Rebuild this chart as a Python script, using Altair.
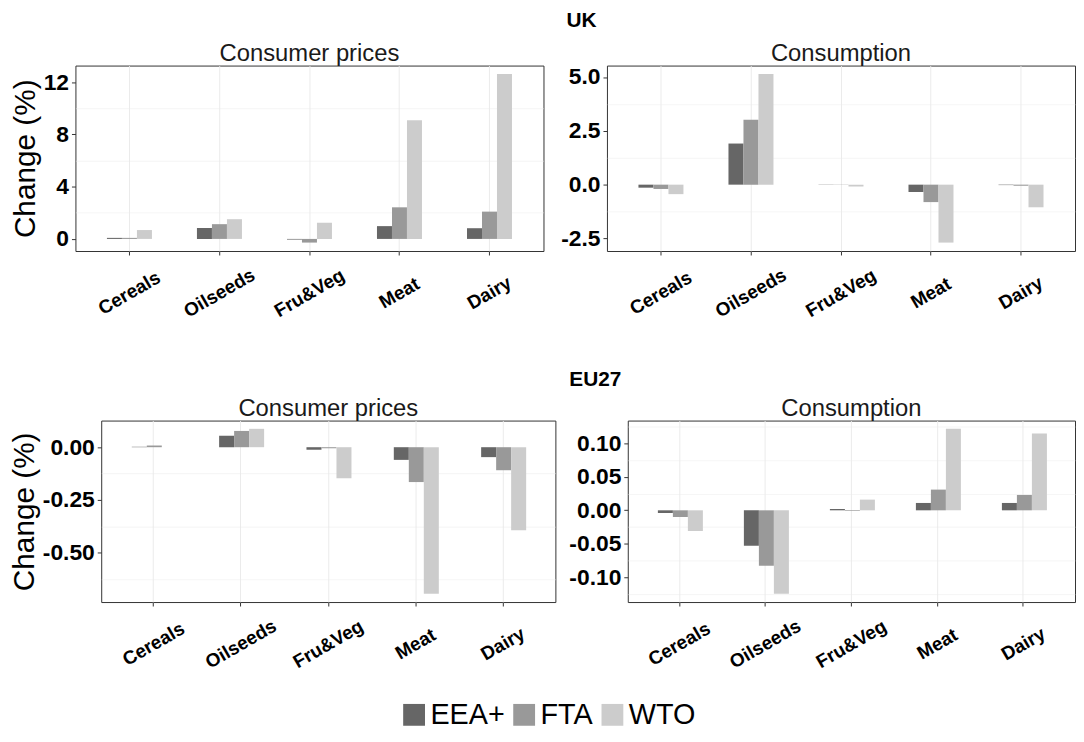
import altair as alt
import pandas as pd

categories = ["Cereals", "Oilseeds", "Fru&Veg", "Meat", "Dairy"]
scenarios = ["EEA+", "FTA", "WTO"]
greys = ["#666666", "#999999", "#cccccc"]

uk_prices_eea = [0.08, 0.83, -0.05, 0.98, 0.82]
uk_prices_fta = [0.08, 1.13, -0.28, 2.42, 2.09]
uk_prices_wto = [0.68, 1.51, 1.23, 9.08, 12.63]

uk_cons_eea = [-0.14, 1.91, -0.01, -0.34, -0.02]
uk_cons_fta = [-0.20, 3.01, -0.01, -0.81, -0.05]
uk_cons_wto = [-0.44, 5.14, -0.09, -2.69, -1.05]

eu_prices_eea = [0.002, 0.054, -0.012, -0.060, -0.047]
eu_prices_fta = [0.008, 0.077, -0.005, -0.165, -0.109]
eu_prices_wto = [0.0, 0.087, -0.147, -0.694, -0.393]

eu_cons_eea = [-0.004, -0.053, 0.002, 0.011, 0.011]
eu_cons_fta = [-0.010, -0.083, -0.001, 0.031, 0.023]
eu_cons_wto = [-0.031, -0.125, 0.016, 0.122, 0.115]

uk_prices_ticks = [0, 4, 8, 12]
uk_prices_minor = [2, 6, 10]
uk_cons_ticks = [-2.5, 0, 2.5, 5]
uk_cons_minor = [-1.25, 1.25, 3.75]
eu_prices_ticks = [-0.5, -0.25, 0]
eu_prices_minor = [-0.625, -0.375, -0.125]
eu_cons_ticks = [-0.1, -0.05, 0, 0.05, 0.1]
eu_cons_minor = [-0.125, -0.075, -0.025, 0.025, 0.075, 0.125]

FONT = "Liberation Sans"


def panel(eea, fta, wto, title, ticks, minor, fmt, width, height, ytitle=""):
    df = pd.DataFrame({
        "Category": [c for c in categories for _ in scenarios],
        "Scenario": scenarios * len(categories),
        "Change": [v for trio in zip(eea, fta, wto) for v in trio],
    })
    lo = min(0.0, float(df.Change.min()))
    hi = max(0.0, float(df.Change.max()))
    pad = 0.05 * (hi - lo)
    yscale = alt.Scale(domain=[lo - pad, hi + pad], nice=False, zero=False)
    ykw = dict(
        values=ticks, format=fmt, orient="left",
        labelExpr="replace(datum.label, '\u2212', '-')",
        labelOverlap=False, labelFlush=False,
        labelFontSize=23, labelFontWeight="bold", labelColor="black",
        labelPadding=3, tickSize=4, gridWidth=1,
    )
    if ytitle:
        ykw.update(title=ytitle, titleFontSize=30, titleFontWeight="normal",
                   titleColor="black", titlePadding=3)
    else:
        ykw.update(title="")
    x = alt.X(
        "Category:N", sort=categories,
        scale=alt.Scale(paddingInner=0.5, paddingOuter=0.35),
        axis=alt.Axis(title="", bandPosition=0.5, labelAngle=-30, labelAlign="center",
                      labelBaseline="middle", labelPadding=38, labelFontSize=19,
                      labelFontWeight="bold", labelColor="black", tickSize=4,
                      labelOverlap=False, grid=True),
    )
    color = alt.Color(
        "Scenario:N", sort=scenarios,
        scale=alt.Scale(domain=scenarios, range=greys),
        legend=alt.Legend(title=None, orient="none", legendX=395, legendY=640,
                          direction="horizontal", symbolType="square", symbolSize=484,
                          symbolStrokeWidth=0, labelFontSize=29, labelFont=FONT,
                          labelColor="black", labelOffset=2, columnPadding=5),
    )
    base = alt.Chart(df)
    minor_grid = base.mark_point(opacity=0).encode(
        y=alt.Y("Change:Q", scale=yscale,
                axis=alt.Axis(values=minor, orient="left", labels=False, ticks=False,
                              domain=False, grid=True, gridWidth=0.5, title="")),
    )
    bars = base.mark_bar().encode(
        x=x, xOffset=alt.XOffset("Scenario:N", sort=scenarios),
        y=alt.Y("Change:Q", scale=yscale, axis=alt.Axis(**ykw)),
        color=color,
    )
    return alt.layer(minor_grid, bars).resolve_axis(y="independent").properties(
        width=width, height=height,
        title=alt.TitleParams(title, fontSize=24, fontWeight="normal", font=FONT,
                              color="#1a1a1a", anchor="middle", offset=0),
    )


uk_cp = panel(uk_prices_eea, uk_prices_fta, uk_prices_wto, "Consumer prices",
              uk_prices_ticks, uk_prices_minor, "d", 472, 187, "Change (%)")
uk_cs = panel(uk_cons_eea, uk_cons_fta, uk_cons_wto, "Consumption",
              uk_cons_ticks, uk_cons_minor, ".1f", 472, 187)
eu_cp = panel(eu_prices_eea, eu_prices_fta, eu_prices_wto, "Consumer prices",
              eu_prices_ticks, eu_prices_minor, ".2f", 458, 183, "Change (%)")
eu_cs = panel(eu_cons_eea, eu_cons_fta, eu_cons_wto, "Consumption",
              eu_cons_ticks, eu_cons_minor, ".2f", 451, 183)


def spacer():
    return alt.Chart(pd.DataFrame({"a": [0]})).mark_rect(opacity=0).properties(
        width=1, height=1, view=alt.ViewBackground(strokeOpacity=0)
    )


def row(a, b, name, dx, gap, offset):
    inner = alt.hconcat(a, b, spacing=gap).resolve_scale(x="independent", y="independent")
    return alt.hconcat(
        spacer(), inner, spacing=0,
        title=alt.TitleParams(name, fontSize=21, fontWeight="bold", font=FONT,
                              color="black", anchor="middle", offset=offset, dx=dx),
    ).resolve_scale(x="independent", y="independent")


chart = alt.vconcat(
    row(uk_cp, uk_cs, "UK", 40, 15, 10),
    row(eu_cp, eu_cs, "EU27", 54, 12, 6),
    spacing=48,
).resolve_scale(
    x="independent", y="independent"
).properties(
    padding={"left": 0, "top": -1, "right": 0, "bottom": 0}
).configure_view(
    stroke="#333333", strokeWidth=1
).configure_axis(
    gridColor="#ebebeb", tickColor="#333333", domain=False,
    labelFont=FONT, titleFont=FONT,
)

chart.save("out.html", embed_options={"renderer": "svg", "actions": False})
